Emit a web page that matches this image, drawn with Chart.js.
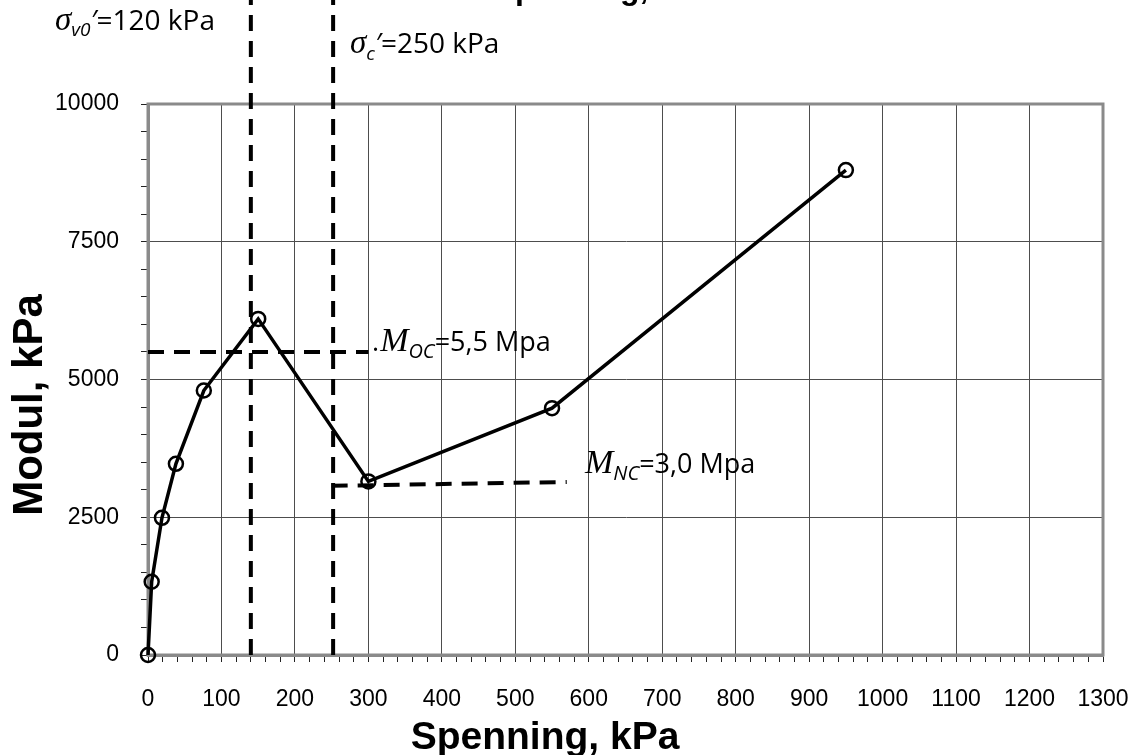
<!DOCTYPE html>
<html>
<head>
<meta charset="utf-8">
<script src="https://cdn.jsdelivr.net/npm/chart.js@4.4.1/dist/chart.umd.min.js"></script>
<style>
  html, body { margin: 0; padding: 0; background: #fff; }
  #wrap { width: 1139px; height: 755px; }
</style>
</head>
<body>
<div id="wrap"><canvas id="chModul" width="1139" height="755"></canvas></div>
<script>
// Modul vs spenning (ødometer) — målte punkter + tolkningslinjer

// Målte punkter
const spenning = [0, 5, 19, 38, 76, 150, 300, 550, 950];
const modul    = [0, 1330, 2490, 3470, 4800, 6100, 3150, 4480, 8800];

// Tolkningslinjer
const sv0X = [140, 140];     const sv0Y = [0, 12500];   // σv0'
const scX  = [252, 252];     const scY  = [0, 12500];   // σc'
const mocX = [0, 300];       const mocY = [5500, 5500]; // M_OC
const mncX = [250, 570];     const mncY = [3070, 3140]; // M_NC

// Akser
const X_MIN = 0, X_MAX = 1300, X_MAJOR = 100, X_MINOR = 20;
const Y_MIN = 0, Y_MAX = 10000, Y_MAJOR = 2500, Y_MINOR = 500;
const X_TITLE = 'Spenning, kPa';
const Y_TITLE = 'Modul, kPa';

const SANS = 'Liberation Sans, Arial, sans-serif';
const LBL = '"Open Sans", Liberation Sans, sans-serif';
const SERIF = 'Liberation Serif, Times New Roman, serif';

const pts = (xs, ys) => xs.map((x, i) => ({ x, y: ys[i] }));

function dashed(xs, ys, clip) {
  return {
    data: pts(xs, ys),
    showLine: true,
    borderColor: '#000',
    borderWidth: 4,
    borderDash: [16, 10],
    pointRadius: 0,
    clip: clip ? undefined : false
  };
}

// Plot-ramme i Excel-stil
const rammePlugin = {
  id: 'ramme',
  beforeDatasetsDraw(chart) {
    const { ctx, chartArea: a } = chart;
    ctx.save();
    ctx.strokeStyle = '#8a8a8a';
    ctx.lineWidth = 3;
    ctx.strokeRect(a.left, a.top, a.right - a.left, a.bottom - a.top);
    ctx.restore();
  }
};

function rich(ctx, x, y, parts) {
  for (const p of parts) {
    ctx.font = p.font;
    ctx.fillText(p.t, x, y + (p.dy || 0));
    x += ctx.measureText(p.t).width;
  }
}

const tekstPlugin = {
  id: 'tekst',
  afterDraw(chart) {
    const ctx = chart.ctx;
    ctx.save();
    ctx.fillStyle = '#000';
    ctx.textBaseline = 'alphabetic';
    ctx.textAlign = 'left';

    // avkuttet tittel øverst (bare underlengdene synes)
    ctx.font = 'bold 32px ' + SANS;
    const tittel = 'Ødometermodul mot spenning, CRS';
    const pre = ctx.measureText('Ødometermodul mot s').width;
    ctx.fillText(tittel, 515 - pre, -1);

    // aksetitler (flyttet slik som i Excel-figuren)
    ctx.textAlign = 'center';
    ctx.font = 'bold 39px ' + SANS;
    ctx.fillText(X_TITLE, 545, 749);
    ctx.save();
    ctx.translate(42, 405);
    ctx.rotate(-Math.PI / 2);
    ctx.font = 'bold 42px ' + SANS;
    ctx.fillText(Y_TITLE, 0, 0);
    ctx.restore();
    ctx.textAlign = 'left';

    const sig = 'italic 33px ' + SERIF;
    const sub = 'italic 19px ' + LBL;
    const txt = '28px ' + LBL;
    rich(ctx, 55, 30, [
      { t: 'σ', font: sig },
      { t: 'v0', font: sub, dy: 6 },
      { t: '\u2032', font: 'italic 28px ' + LBL },
      { t: '=120 kPa', font: txt }
    ]);
    rich(ctx, 350, 53, [
      { t: 'σ', font: sig },
      { t: 'c', font: sub, dy: 7 },
      { t: '\u2032', font: 'italic 28px ' + LBL },
      { t: '=250 kPa', font: txt }
    ]);

    const mFont = 'italic 34px ' + SERIF;
    const mSub = 'italic 20px ' + LBL;
    const mTxt = '27px ' + LBL;
    rich(ctx, 372, 351, [
      { t: '.', font: mTxt },
      { t: ' ', font: '4px ' + LBL },
      { t: 'M', font: mFont },
      { t: 'OC', font: mSub, dy: 7 },
      { t: '=5,5 Mpa', font: mTxt }
    ]);
    rich(ctx, 585, 473, [
      { t: 'M', font: mFont },
      { t: 'NC', font: mSub, dy: 7 },
      { t: '=3,0 Mpa', font: mTxt }
    ]);
    ctx.restore();
  }
};

const isMajor = (v, step) => Math.abs(Math.round(v) % step) === 0;

new Chart(document.getElementById('chModul'), {
  type: 'scatter',
  data: {
    datasets: [
      dashed(sv0X, sv0Y, false),
      dashed(scX, scY, false),
      dashed(mocX, mocY, true),
      dashed(mncX, mncY, true),
      {
        data: pts(spenning, modul),
        showLine: true,
        borderColor: '#000',
        borderWidth: 3.5,
        pointRadius: 7,
        pointBorderWidth: 2.5,
        pointBorderColor: '#000',
        pointBackgroundColor: 'rgba(0,0,0,0)',
        clip: false
      }
    ]
  },
  options: {
    responsive: false,
    animation: false,
    devicePixelRatio: 1,
    layout: { padding: { left: 0, right: 36, top: 104, bottom: 0 } },
    plugins: {
      legend: { display: false },
      tooltip: { enabled: false }
    },
    scales: {
      x: {
        type: 'linear',
        min: X_MIN, max: X_MAX,
        afterFit: (s) => { s.height = 100; s.paddingLeft = 0; s.paddingRight = 0; },
        ticks: {
          stepSize: X_MINOR,
          autoSkip: false,
          maxRotation: 0,
          padding: 24,
          color: '#000',
          font: { family: SANS, size: 23 },
          callback: (v) => isMajor(v, X_MAJOR) ? String(Math.round(v)) : ''
        },
        grid: {
          color: (c) => (c.tick && isMajor(c.tick.value, X_MAJOR)) ? '#4d4d4d' : 'rgba(0,0,0,0)',
          lineWidth: 1,
          tickColor: '#222',
          tickLength: 7
        },
        border: { display: true, color: '#8a8a8a', width: 3 },
        title: { display: false }
      },
      y: {
        type: 'linear',
        min: Y_MIN, max: Y_MAX,
        afterFit: (s) => { s.width = 148; s.paddingTop = 0; s.paddingBottom = 0; },
        ticks: {
          stepSize: Y_MINOR,
          autoSkip: false,
          padding: 22,
          color: '#000',
          font: { family: SANS, size: 23 },
          callback: (v) => isMajor(v, Y_MAJOR) ? String(Math.round(v)) : ''
        },
        grid: {
          color: (c) => (c.tick && isMajor(c.tick.value, Y_MAJOR)) ? '#4d4d4d' : 'rgba(0,0,0,0)',
          lineWidth: 1,
          tickColor: '#222',
          tickLength: 7
        },
        border: { display: true, color: '#8a8a8a', width: 3 },
        title: { display: false }
      }
    }
  },
  plugins: [rammePlugin, tekstPlugin]
});
</script>
</body>
</html>
